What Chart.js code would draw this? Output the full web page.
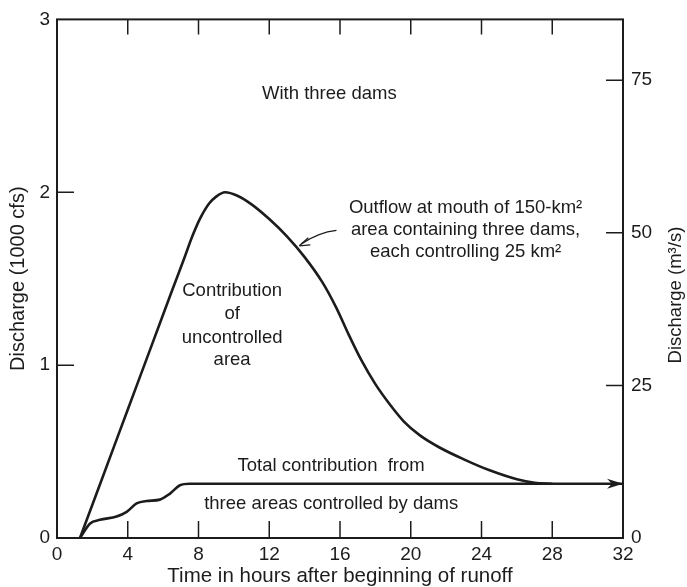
<!DOCTYPE html>
<html>
<head>
<meta charset="utf-8">
<script src="https://cdn.jsdelivr.net/npm/chart.js@4.4.0/dist/chart.umd.min.js"></script>
<style>
  html, body { margin: 0; padding: 0; background: #fff; }
  #wrap { width: 687px; height: 587px; position: relative; }
</style>
</head>
<body>
<div id="wrap"><canvas id="chart"></canvas></div>
<script>
// Outflow at the mouth (1000 cfs) vs time in hours
const outflowHours = [1.3, 2.5, 3.5, 4.5, 5.5, 6.5, 7.2, 7.65, 8.1, 8.6, 9.0, 9.5, 10.2, 11.0, 12.0, 13.0, 14.0, 15.0, 15.8, 16.5, 17.2, 18.0, 18.8, 19.6, 20.5, 21.6, 23.0, 24.5, 26.0, 27.0, 28.0];
const outflowCfs = [0, 0.33, 0.605, 0.88, 1.155, 1.43, 1.62, 1.745, 1.85, 1.935, 1.975, 2.0, 1.98, 1.93, 1.845, 1.745, 1.625, 1.48, 1.33, 1.175, 1.03, 0.89, 0.775, 0.675, 0.595, 0.525, 0.455, 0.39, 0.34, 0.32, 0.314];

// Total contribution from the three dam-controlled areas
const controlledHours = [1.3, 1.87, 2.43, 3.37, 3.94, 4.5, 5.07, 5.82, 6.39, 6.95, 7.5, 8.6, 32.0];
const controlledCfs = [0, 0.084, 0.105, 0.124, 0.151, 0.2, 0.214, 0.222, 0.257, 0.305, 0.314, 0.314, 0.314];

const xTicks = [0, 4, 8, 12, 16, 20, 24, 28, 32];
const leftTicks = [0, 1, 2, 3];
const rightTicks = [0, 25, 50, 75];
const CMS_PER_1000CFS = 28.317;

const ink = '#1c1c1c';
const font = 'Liberation Sans, Arial, sans-serif';

const toPoints = (xs, ys) => xs.map((x, i) => ({ x: x, y: ys[i] }));

// frame, inward ticks, arrows and text notes
const decorations = {
    id: 'decorations',
    afterDraw(chart) {
        const { ctx, chartArea: a, scales } = chart;
        const x = scales.x, y = scales.y, y2 = scales.y2;
        ctx.save();
        ctx.strokeStyle = ink;
        ctx.fillStyle = ink;
        ctx.lineWidth = 2;
        ctx.strokeRect(a.left, a.top, a.right - a.left, a.bottom - a.top);

        ctx.lineWidth = 1.5;
        ctx.beginPath();
        xTicks.slice(1, -1).forEach(v => {
            const px = x.getPixelForValue(v);
            ctx.moveTo(px, a.bottom); ctx.lineTo(px, a.bottom - 17);
            ctx.moveTo(px, a.top); ctx.lineTo(px, a.top + 15);
        });
        leftTicks.slice(1, -1).forEach(v => {
            const py = y.getPixelForValue(v);
            ctx.moveTo(a.left, py); ctx.lineTo(a.left + 17, py);
        });
        rightTicks.slice(1).forEach(v => {
            const py = y2.getPixelForValue(v);
            ctx.moveTo(a.right, py); ctx.lineTo(a.right - 17, py);
        });
        ctx.stroke();

        // arrowhead at the end of the controlled line
        const last = controlledHours.length - 1;
        const ex = x.getPixelForValue(controlledHours[last]);
        const ey = y.getPixelForValue(controlledCfs[last]);
        ctx.beginPath();
        ctx.moveTo(ex, ey);
        ctx.lineTo(ex - 16, ey - 5);
        ctx.lineTo(ex - 11, ey);
        ctx.lineTo(ex - 16, ey + 5);
        ctx.closePath();
        ctx.fill();

        // pointer from the note to the outflow curve
        const tx = x.getPixelForValue(15.8), ty = y.getPixelForValue(1.78);
        const hx = x.getPixelForValue(13.7), hy = y.getPixelForValue(1.69);
        ctx.lineWidth = 1.3;
        ctx.beginPath();
        ctx.moveTo(tx, ty);
        ctx.quadraticCurveTo(tx - 18, ty + 2, hx + 2, hy - 2);
        ctx.stroke();
        ctx.beginPath();
        ctx.moveTo(hx, hy);
        ctx.lineTo(hx + 9, hy - 8);
        ctx.moveTo(hx, hy);
        ctx.lineTo(hx + 11, hy - 1);
        ctx.stroke();

        // text notes
        ctx.textAlign = 'center';
        ctx.textBaseline = 'middle';
        ctx.font = '18.5px ' + font;
        const note = (txt, hx, v) => ctx.fillText(txt, x.getPixelForValue(hx), y.getPixelForValue(v));
        note('With three dams', 15.4, 2.57);
        note('Outflow at mouth of 150-km²', 23.1, 1.91);
        note('area containing three dams,', 23.1, 1.78);
        note('each controlling 25 km²', 23.1, 1.655);
        note('Contribution', 9.9, 1.43);
        note('of', 9.9, 1.295);
        note('uncontrolled', 9.9, 1.16);
        note('area', 9.9, 1.03);
        note('Total contribution  from', 15.5, 0.415);
        note('three areas controlled by dams', 15.5, 0.2);

        // right-hand axis title, reading upward
        ctx.font = '18.5px ' + font;
        ctx.translate(676, y2.getPixelForValue(39.8));
        ctx.rotate(-Math.PI / 2);
        ctx.fillText('Discharge (m³/s)', 0, 0);
        ctx.restore();
    }
};

new Chart(document.getElementById('chart'), {
    type: 'scatter',
    data: {
        datasets: [
            {
                label: 'Outflow',
                data: toPoints(outflowHours, outflowCfs),
                showLine: true,
                borderColor: ink,
                borderWidth: 2.6,
                pointRadius: 0,
                cubicInterpolationMode: 'monotone',
                yAxisID: 'y'
            },
            {
                label: 'Controlled',
                data: toPoints(controlledHours, controlledCfs),
                showLine: true,
                borderColor: ink,
                borderWidth: 2.6,
                pointRadius: 0,
                cubicInterpolationMode: 'monotone',
                yAxisID: 'y'
            }
        ]
    },
    options: {
        responsive: true,
        maintainAspectRatio: false,
        animation: false,
        layout: { padding: { top: 17 } },
        plugins: { legend: { display: false }, tooltip: { enabled: false } },
        scales: {
            x: {
                type: 'linear',
                min: 0, max: 32,
                grid: { display: false, drawTicks: false },
                border: { display: false },
                afterBuildTicks: s => { s.ticks = xTicks.map(v => ({ value: v })); },
                afterFit: s => { s.height = 49; },
                ticks: { color: ink, padding: 5, font: { family: font, size: 19 } },
                title: {
                    display: true,
                    text: 'Time in hours after beginning of runoff',
                    color: ink,
                    padding: { top: 0, bottom: 0 },
                    font: { family: font, size: 20.5, lineHeight: 1.0 }
                }
            },
            y: {
                position: 'left',
                min: 0, max: 3,
                grid: { display: false, drawTicks: false },
                border: { display: false },
                afterBuildTicks: s => { s.ticks = leftTicks.map(v => ({ value: v })); },
                afterFit: s => { s.width = 57; },
                ticks: { color: ink, padding: 7, font: { family: font, size: 19 } },
                title: {
                    display: true,
                    text: 'Discharge (1000 cfs)',
                    color: ink,
                    padding: { top: 6, bottom: 6 },
                    font: { family: font, size: 20 }
                }
            },
            y2: {
                position: 'right',
                min: 0, max: 3 * CMS_PER_1000CFS,
                grid: { display: false, drawTicks: false },
                border: { display: false },
                afterBuildTicks: s => { s.ticks = rightTicks.map(v => ({ value: v })); },
                afterFit: s => { s.width = 64; },
                ticks: { color: ink, padding: 8, font: { family: font, size: 19 } }
            }
        }
    },
    plugins: [decorations]
});
</script>
</body>
</html>
